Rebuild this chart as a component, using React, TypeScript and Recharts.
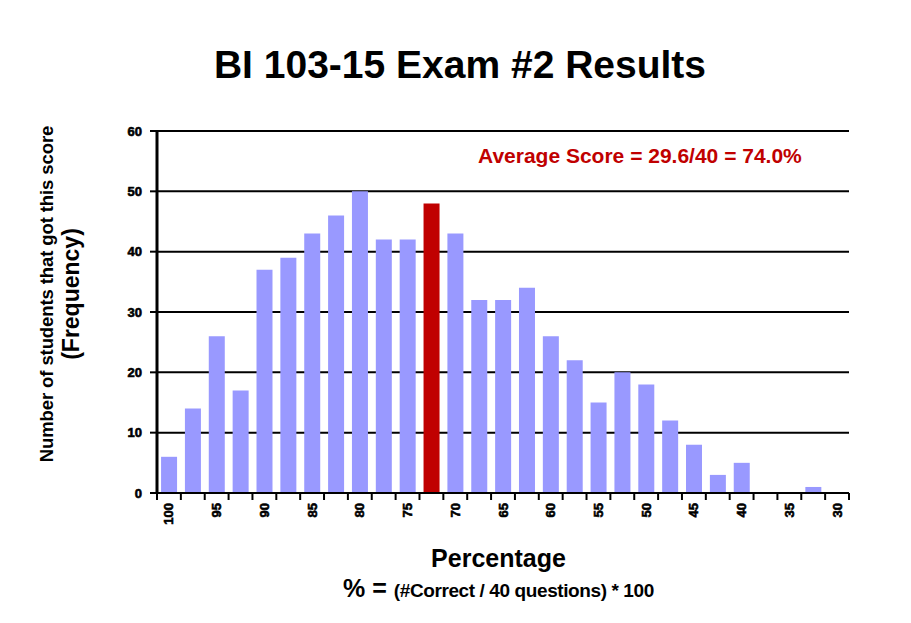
import React from "react";
import { BarChart, Bar, XAxis, YAxis, CartesianGrid, Cell } from "recharts";

const percentages = [
  "100", "97.5", "95", "92.5", "90", "87.5", "85", "82.5", "80", "77.5",
  "75", "72.5", "70", "67.5", "65", "62.5", "60", "57.5", "55", "52.5",
  "50", "47.5", "45", "42.5", "40", "37.5", "35", "32.5", "30",
];
const students = [
  6, 14, 26, 17, 37, 39, 43, 46, 50, 42,
  42, 48, 43, 32, 32, 34, 26, 22, 15, 20,
  18, 12, 8, 3, 5, 0, 0, 1, 0,
];
const averageBin = "72.5";
const yTicks = [0, 10, 20, 30, 40, 50, 60];

const data = percentages.map((pct, i) => ({ pct, count: students[i] }));

const W = 911;
const H = 623;
const PLOT_LEFT = 157;
const PLOT_RIGHT = 849;
const PLOT_TOP = 131;
const PLOT_BOTTOM = 493;
const BAND = (PLOT_RIGHT - PLOT_LEFT) / percentages.length;

const FONT = "Arial, 'Liberation Sans', Helvetica, sans-serif";
const BLUE = "#9999FF";
const RED = "#C00000";

function PctTick(props: any) {
  const { x, payload, index } = props;
  const label = payload.value as string;
  const showLabel = Number(label) % 5 === 0;
  const isLast = index === percentages.length - 1;
  return (
    <g>
      <line x1={x - BAND / 2} y1={PLOT_BOTTOM} x2={x - BAND / 2} y2={PLOT_BOTTOM + 7} stroke="#000" strokeWidth={2} />
      {isLast && (
        <line x1={x + BAND / 2} y1={PLOT_BOTTOM} x2={x + BAND / 2} y2={PLOT_BOTTOM + 7} stroke="#000" strokeWidth={2} />
      )}
      {showLabel && (
        <text
          x={x}
          y={PLOT_BOTTOM + 10}
          transform={`rotate(-90 ${x} ${PLOT_BOTTOM + 10})`}
          textAnchor="end"
          dominantBaseline="central"
          fontFamily={FONT}
          fontWeight="bold"
          fontSize={13}
          fill="#000"
          stroke="#000"
          strokeWidth={0.6}
        >
          {label}
        </text>
      )}
    </g>
  );
}

export default function App() {
  return (
    <div style={{ position: "absolute", left: 0, top: 0, width: W, height: H, background: "#fff", fontFamily: FONT }}>
      <BarChart
        width={W}
        height={H}
        data={data}
        margin={{ top: PLOT_TOP, right: W - PLOT_RIGHT, bottom: 0, left: PLOT_LEFT - 40 }}
        barCategoryGap="17%"
      >
        <CartesianGrid vertical={false} stroke="#000" strokeWidth={2} />
        <XAxis
          dataKey="pct"
          interval={0}
          height={H - PLOT_BOTTOM}
          tickLine={false}
          axisLine={{ stroke: "#000", strokeWidth: 2 }}
          tick={<PctTick />}
        />
        <YAxis
          width={40}
          domain={[0, 60]}
          ticks={yTicks}
          interval={0}
          tickSize={7}
          tickMargin={8}
          tickLine={{ stroke: "#000", strokeWidth: 2 }}
          axisLine={{ stroke: "#000", strokeWidth: 3 }}
          tick={{ fontFamily: FONT, fontWeight: "bold", fontSize: 13, fill: "#000", stroke: "#000", strokeWidth: 0.6 }}
        />
        <Bar dataKey="count" isAnimationActive={false}>
          {data.map((d, i) => (
            <Cell key={`c-${i}`} fill={d.pct === averageBin ? RED : BLUE} />
          ))}
        </Bar>
      </BarChart>

      <div style={{ position: "absolute", left: 0, width: W, top: 43, textAlign: "center", fontSize: 39, fontWeight: "bold", paddingLeft: 9, boxSizing: "border-box" }}>
        BI 103-15 Exam #2 Results
      </div>

      <div style={{ position: "absolute", left: 478, top: 144, color: RED, fontSize: 21, fontWeight: "bold", whiteSpace: "nowrap" }}>
        Average Score = 29.6/40 = 74.0%
      </div>

      <div
        style={{
          position: "absolute",
          left: 62 - 200,
          top: 294 - 27,
          width: 400,
          height: 54,
          transform: "rotate(-90deg)",
          textAlign: "center",
          fontWeight: "bold",
          lineHeight: "24px",
          whiteSpace: "nowrap",
        }}
      >
        <div style={{ fontSize: 18.5, letterSpacing: -0.1 }}>Number of students that got this score</div>
        <div style={{ fontSize: 23 }}>(Frequency)</div>
      </div>

      <div style={{ position: "absolute", left: 0, width: W, top: 544, paddingLeft: 86, boxSizing: "border-box", textAlign: "center", fontSize: 25, fontWeight: "bold" }}>
        Percentage
      </div>
      <div style={{ position: "absolute", left: 0, width: W, top: 574, paddingLeft: 86, boxSizing: "border-box", textAlign: "center", fontWeight: "bold", whiteSpace: "nowrap" }}>
        <span style={{ fontSize: 25 }}>% = </span>
        <span style={{ fontSize: 19, letterSpacing: -0.4 }}>(#Correct / 40 questions) * 100</span>
      </div>
    </div>
  );
}
